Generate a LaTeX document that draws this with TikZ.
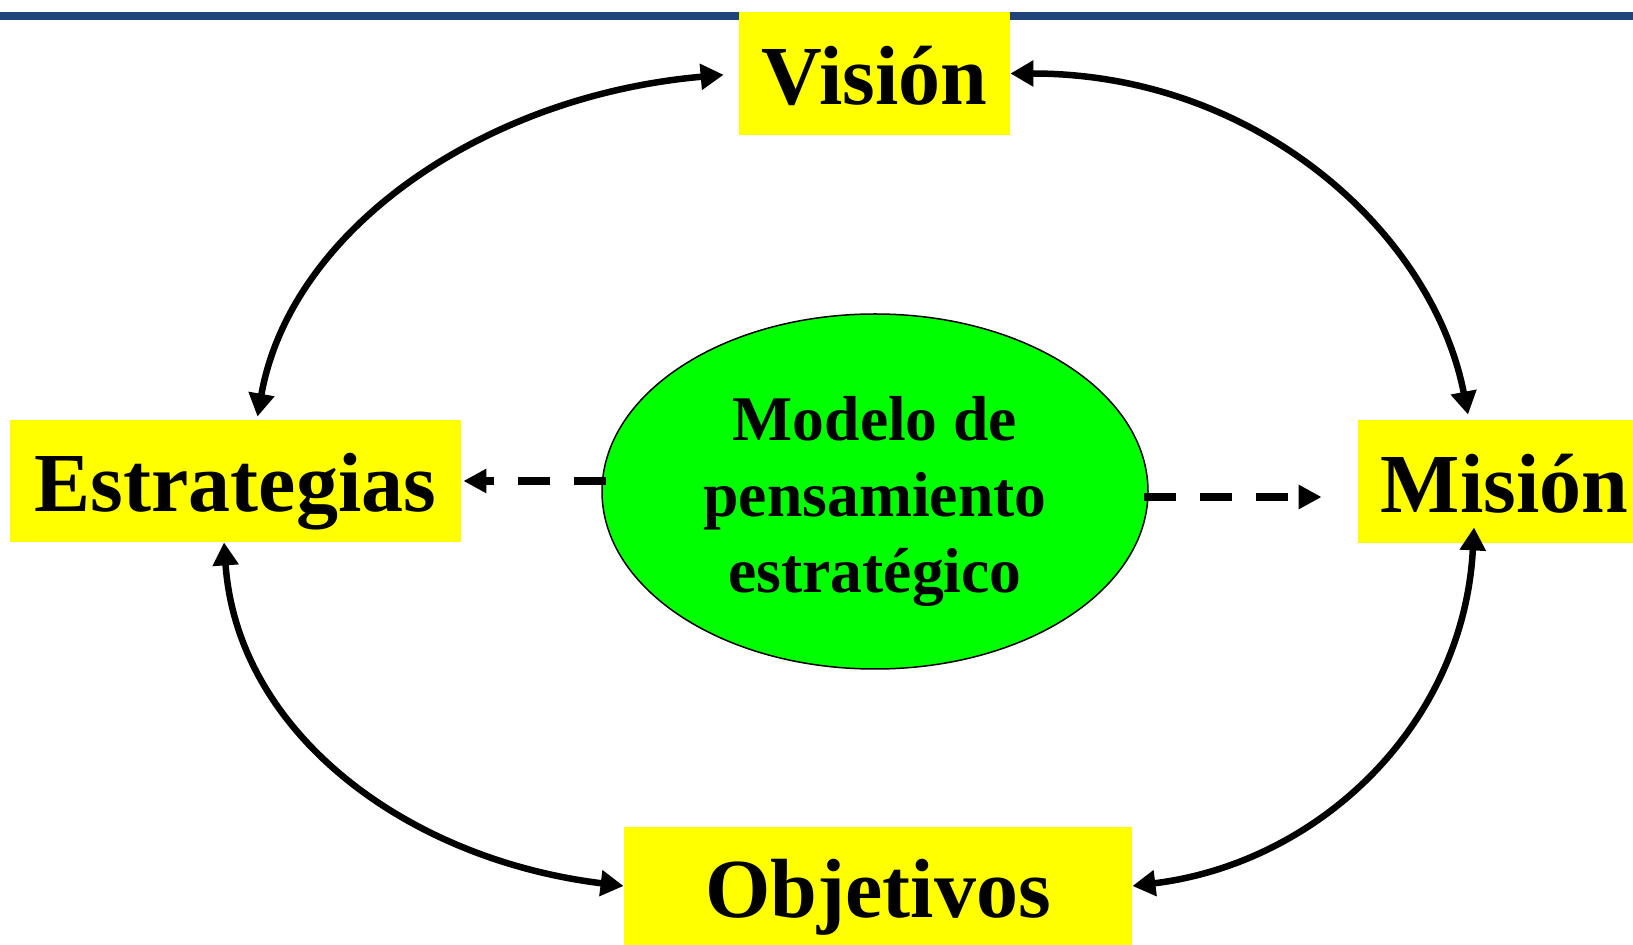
\documentclass[tikz,border=0pt]{standalone}
\usepackage{fontspec}
\setmainfont{Liberation Serif}
\usetikzlibrary{arrows.meta,shapes.geometric}
\definecolor{cajaYellow}{RGB}{255,255,0}
\definecolor{modeloGreen}{RGB}{0,255,0}
\definecolor{barBlue}{RGB}{31,68,122}

\begin{document}
\begin{tikzpicture}[x=0.5pt,y=-0.5pt,
    caja/.style={fill=cajaYellow, inner sep=0pt, font=\fontsize{42}{50}\selectfont\bfseries, text height=31pt, text depth=0pt},
    ciclo/.style={<->, >={Triangle[length=11.5pt,width=12.5pt]}, line width=3.25pt},
    guia/.style={-{Triangle[length=11.5pt,width=11.5pt]}, line width=4pt, dash pattern=on 16pt off 12pt}]
  \useasboundingbox (0,0) rectangle (1633,945);
  \fill[barBlue] (0,12) rectangle (1633,20);
  \node[caja, minimum width=135.5pt, minimum height=61.5pt] (vision) at (874.5,73.5) {Visión};
  \node[caja, minimum width=225.5pt, minimum height=61pt] (estr) at (235.5,481) {Estrategias};
  \node[caja, minimum width=146.5pt, minimum height=61.5pt] (misn) at (1504.5,481.5) {Misión};
  \node[caja, minimum width=254pt, minimum height=59pt] (obj) at (878,886) {Objetivos};
  \node[ellipse, draw, line width=0.75pt, fill=modeloGreen, minimum width=273pt, minimum height=177.5pt, inner sep=0pt,
        font=\fontsize{31.8}{38}\selectfont\bfseries] (modelo) at (875,491.5)
        {\raisebox{-5pt}[\height][\depth]{\begin{tabular}{@{}c@{}}Modelo de\\pensamiento\\estratégico\end{tabular}}};
  \draw[ciclo, shorten >=7.5pt] ([xshift=11pt,yshift=1.5pt]estr.north) .. controls +(80:95pt) and +(185:128pt) .. (vision.west);
  \draw[ciclo] (vision.east) .. controls +(0:124pt) and +(101:92pt) .. ([xshift=-18.25pt,yshift=2.5pt]misn.north);
  \draw[ciclo] ([xshift=-5.75pt]estr.south) .. controls +(-86:95pt) and +(173:110pt) .. (obj.west);
  \draw[ciclo] ([xshift=-15.25pt,yshift=8pt]misn.south) .. controls +(-93:99pt) and +(7:94pt) .. (obj.east);
  \draw[guia] ([xshift=2.5pt]modelo.west |- estr.east) -- ([xshift=1pt]estr.east);
  \draw[guia] ([xshift=-2.5pt,yshift=-2.75pt]modelo.east) -- ([xshift=-18pt,yshift=-2.75pt]misn.west |- modelo.east);
\end{tikzpicture}
\end{document}
